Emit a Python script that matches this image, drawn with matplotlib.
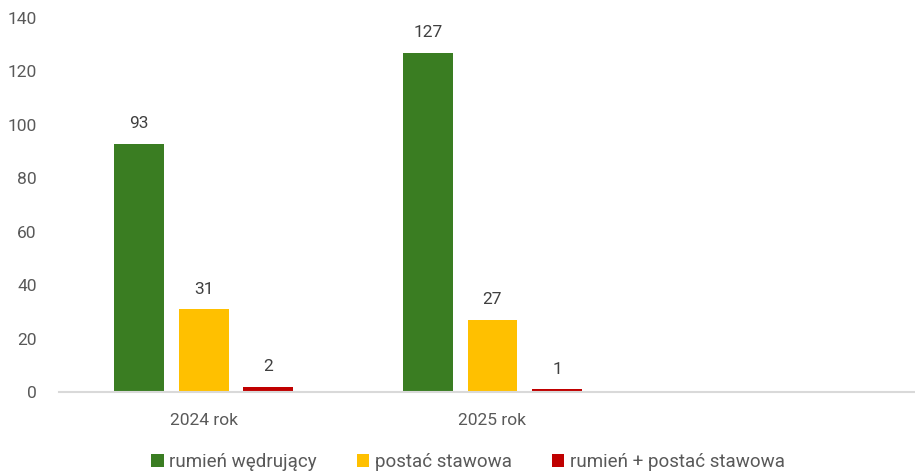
import numpy as np
import matplotlib
matplotlib.use("Agg")
import matplotlib.pyplot as plt

# Dane
years = ["2024 rok", "2025 rok"]
series_names = ["rumień wędrujący", "postać stawowa", "rumień + postać stawowa"]
rumien = [93, 127]
stawowa = [31, 27]
oba = [2, 1]
colors = ["#3A7D22", "#FFC000", "#C00000"]

plt.rcParams["font.family"] = ["Roboto", "DejaVu Sans"]

fig = plt.figure(figsize=(9.15, 4.72), dpi=100)
ax = fig.add_axes([0.0645, 0.1695, 0.9355, 0.7925])

x = np.arange(len(years))
width = 0.173
step = 0.223
for i, (vals, name, col) in enumerate(zip([rumien, stawowa, oba], series_names, colors)):
    bars = ax.bar(x + (i - 1) * step, vals, width, color=col, label=name)
    ax.bar_label(bars, padding=9, fontsize=12.5, color="#404040")

ax.set_xlim(-0.5, 2.462)
ax.set_ylim(0, 140)
ax.set_yticks(range(0, 141, 20))
ax.set_xticks(x)
ax.set_xticklabels(years)
ax.tick_params(axis="both", length=0, labelsize=12.5, labelcolor="#595959")
ax.tick_params(axis="y", pad=16)
ax.tick_params(axis="x", pad=15)

for side in ["top", "right", "left"]:
    ax.spines[side].set_visible(False)
ax.spines["bottom"].set_color("#D9D9D9")
ax.spines["bottom"].set_linewidth(1.5)

ax.legend(loc="center", bbox_to_anchor=(0.478, -0.187), ncol=3, frameon=False,
          fontsize=13.5, labelcolor="#595959", handlelength=0.65, handleheight=0.65,
          handletextpad=0.3, columnspacing=2.15)

plt.savefig("out.png")
